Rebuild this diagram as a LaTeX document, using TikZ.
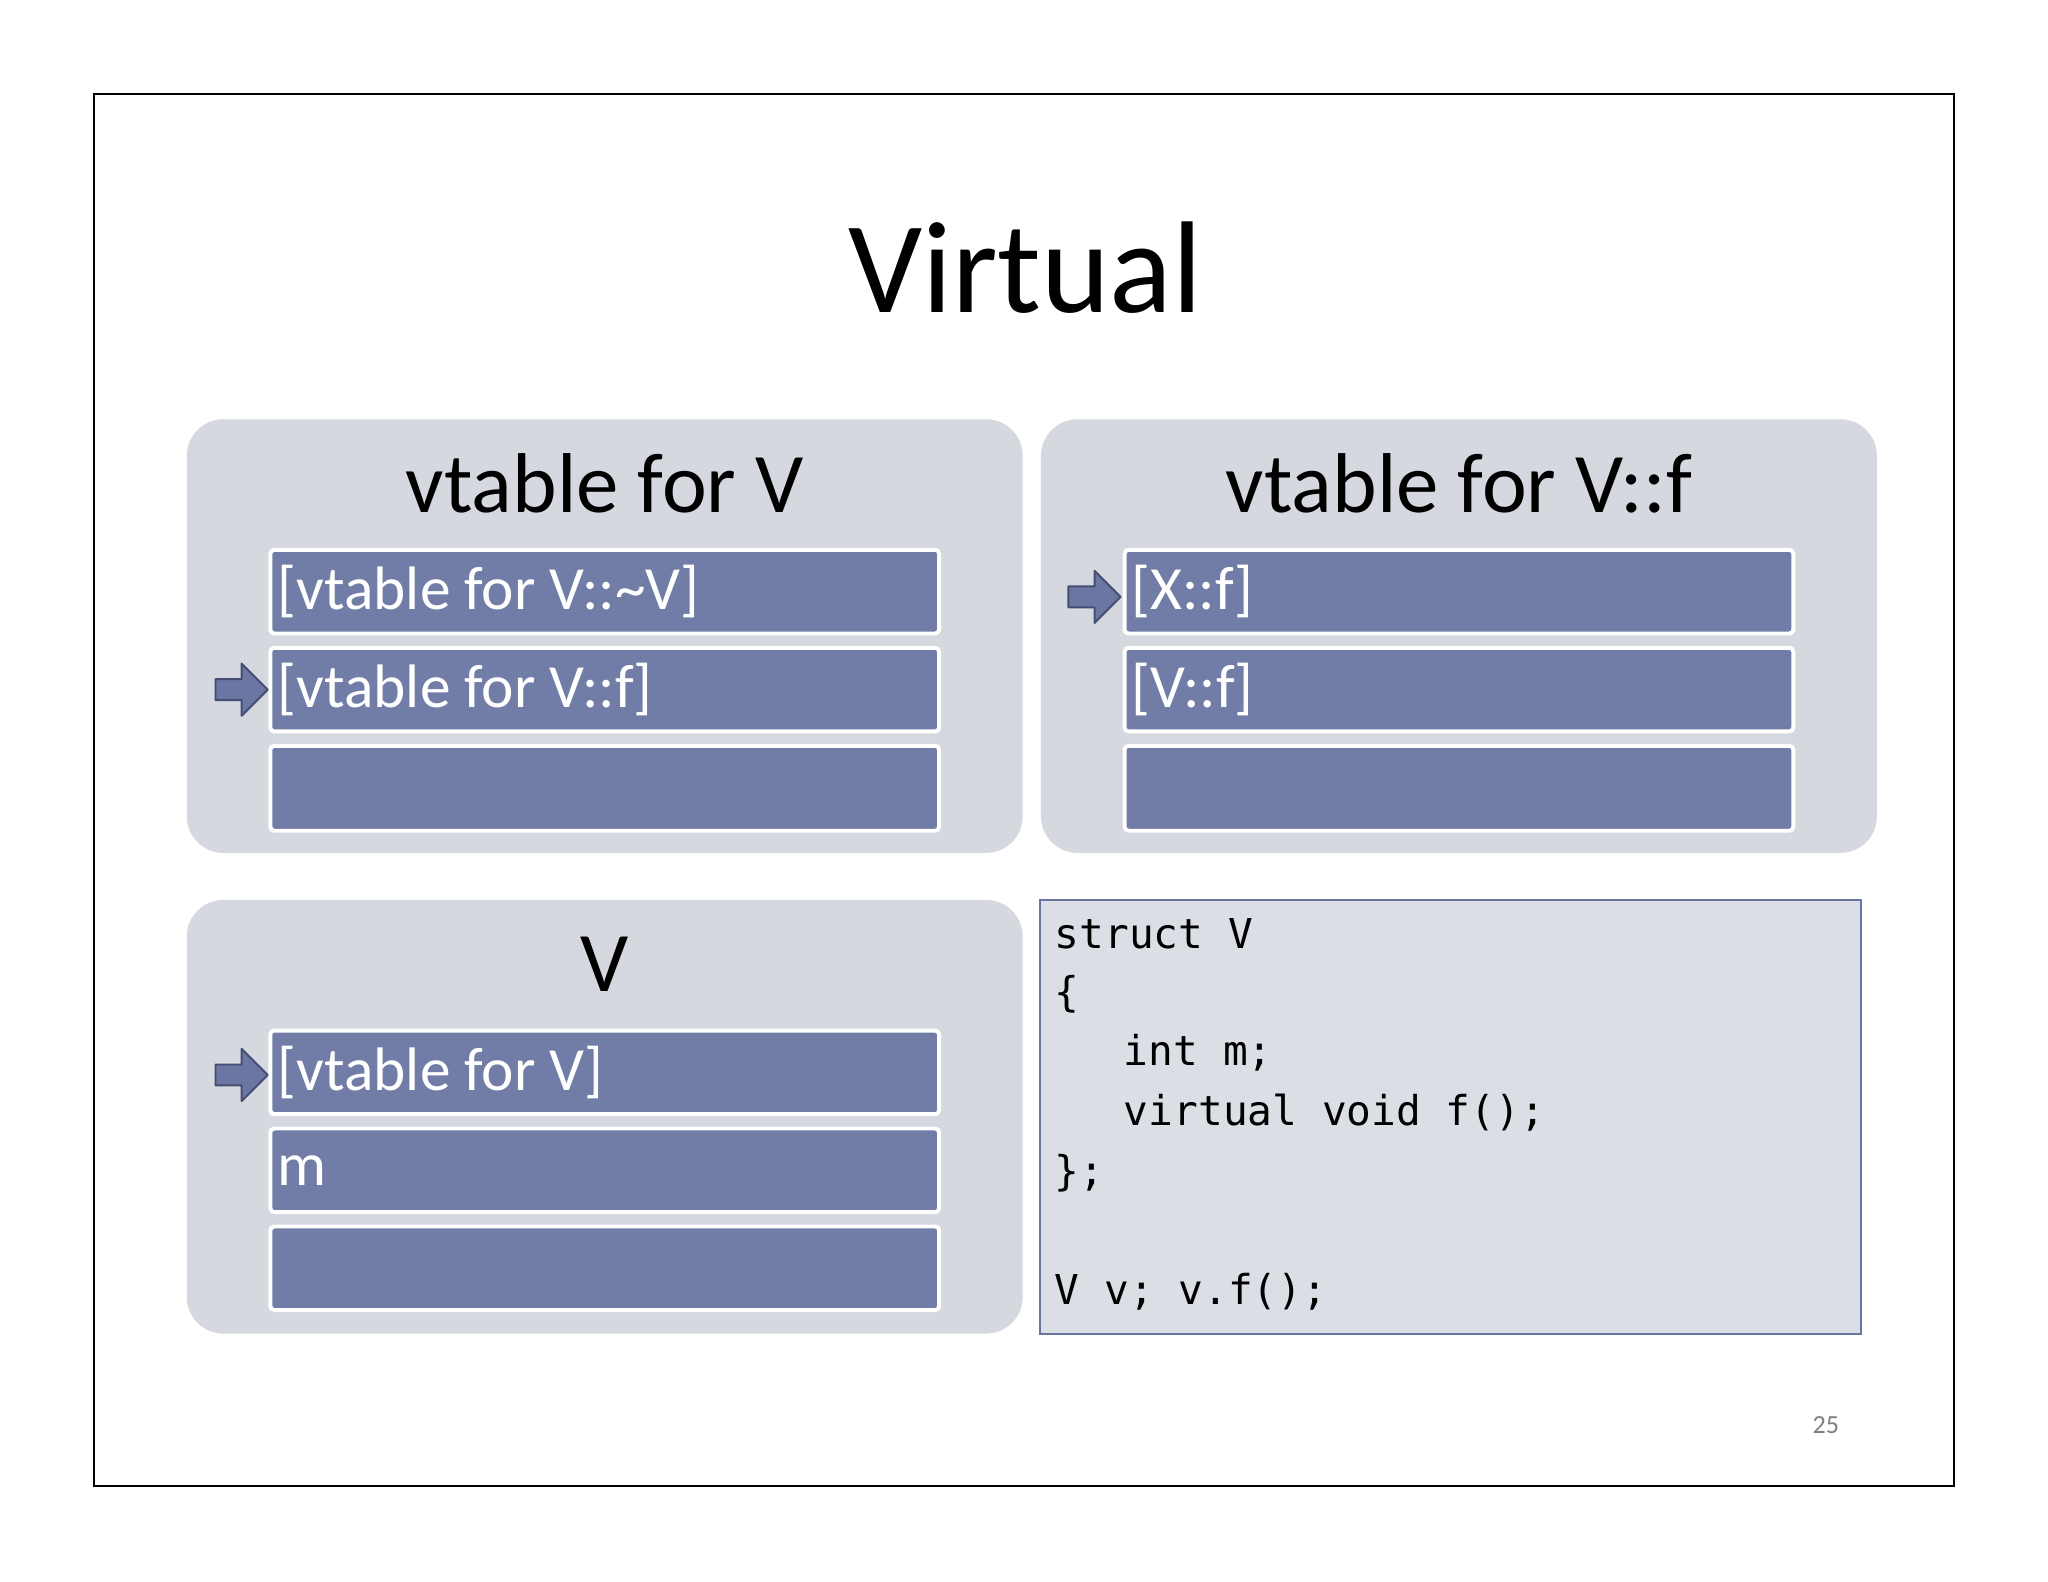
\documentclass[tikz,border=0pt]{standalone}
\usepackage{fontspec}
\setmainfont{Carlito}
\setmonofont{DejaVu Sans Mono}
\definecolor{panel}{HTML}{D6D8E0}
\definecolor{rowc}{HTML}{717DA6}
\definecolor{codebg}{HTML}{DCDEE6}
\definecolor{codeln}{HTML}{6A74A0}
\definecolor{arr}{HTML}{6B76A3}
\definecolor{arrd}{HTML}{454E72}
\tikzset{
 panelbox/.style={fill=panel,draw=none,rounded corners=28pt},
 rowbox/.style={fill=rowc,draw=white,line width=3pt,rounded corners=3pt},
 rowtext/.style={anchor=west,text=white,font=\fontsize{47}{50}\selectfont},
 ptitle/.style={font=\fontsize{65}{70}\selectfont},
 codeline/.style={anchor=west,font=\ttfamily\fontsize{31.5}{34}\selectfont},
 blockarrow/.style={fill=arr,draw=arrd,line width=1.5pt,line join=round}
}
\newcommand{\blkarrow}[2]{\draw[blockarrow] (#1,#2-8) -- (#1+20,#2-8) -- (#1+20,#2-20) -- (#1+40,#2) -- (#1+20,#2+20) -- (#1+20,#2+8) -- (#1,#2+8) -- cycle;}
\begin{document}
\begin{tikzpicture}[x=1pt,y=-1pt]
\fill[white] (0,0) rectangle (1568,1211);
\useasboundingbox (0,0) rectangle (1568,1211);
\draw[line width=1.5pt] (72,72) rectangle (1496,1138);
\node[font=\fontsize{100}{105}\selectfont] (title) at (785,205) {Virtual};
% panel 1
\fill[panelbox] (143,321) rectangle (783,653);
\node[ptitle] (t1) at (463,370) {vtable for V};
\draw[rowbox] (207,421) rectangle (719,485);
\draw[rowbox] (207,496) rectangle (719,560);
\draw[rowbox] (207,571) rectangle (719,636);
\node[rowtext] (r11) at (209,453) {[vtable for V::\textasciitilde V]};
\node[rowtext] (r12) at (209,528) {[vtable for V::f]};
\blkarrow{165}{528}
% panel 2
\fill[panelbox] (797,321) rectangle (1437,653);
\node[ptitle] (t2) at (1117,370) {vtable for V::f};
\draw[rowbox] (861,421) rectangle (1373,485);
\draw[rowbox] (861,496) rectangle (1373,560);
\draw[rowbox] (861,571) rectangle (1373,636);
\node[rowtext] (r21) at (863,453) {[X::f]};
\node[rowtext] (r22) at (863,528) {[V::f]};
\blkarrow{818}{457}
% panel 3
\fill[panelbox] (143,689) rectangle (783,1021);
\node[ptitle] (t3) at (463,738) {V};
\draw[rowbox] (207,789) rectangle (719,853);
\draw[rowbox] (207,864) rectangle (719,928);
\draw[rowbox] (207,939) rectangle (719,1003);
\node[rowtext] (r31) at (209,821) {[vtable for V]};
\node[rowtext] (r32) at (209,896) {m};
\blkarrow{165}{823}
% code
\draw[fill=codebg,draw=codeln,line width=1.5pt] (796,689) rectangle (1425,1021);
\node[codeline] (c1) at (804,715) {struct V};
\node[codeline] (c2) at (804,761) {\{};
\node[codeline] (c3) at (857,806) {int m;};
\node[codeline] (c4) at (857,852) {virtual void f();};
\node[codeline] (c5) at (804,898) {\};};
\node[codeline] (c6) at (804,989) {V v; v.f();};
\node[text=gray,font=\fontsize{20}{22}\selectfont] (pg) at (1398,1091) {25};
\end{tikzpicture}
\end{document}
